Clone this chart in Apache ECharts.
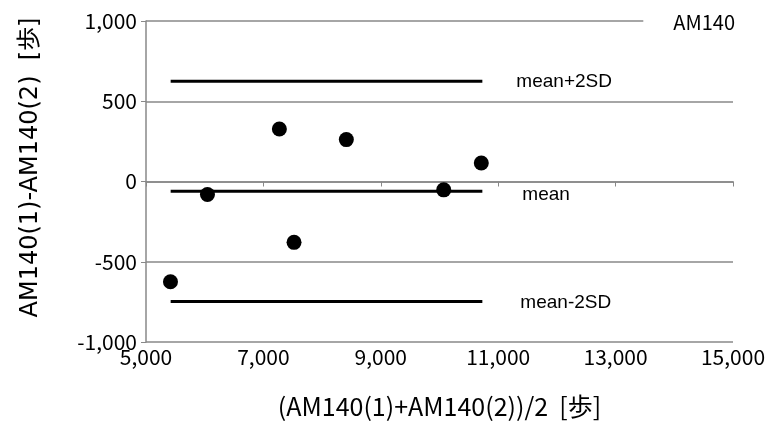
<!DOCTYPE html>
<html><head><meta charset="utf-8">
<script src="https://cdn.jsdelivr.net/npm/echarts@6/dist/echarts.min.js"></script>
<style>html,body{margin:0;padding:0;background:#fff}#c{width:771px;height:428px}</style>
</head><body><div id="c"></div>
<script>
const avgSteps = [5417, 6047, 7272, 7522, 8413, 10072, 10712];
const diffSteps = [-625, -81, 327, -379, 261, -52, 115];
const refRange = [5420, 10730];
const refNames = ['mean+2SD', 'mean', 'mean-2SD'];
const refValues = [625, -60, -748];
const xTicks = [5000, 15000, 2000];
const yTicks = [-1000, 1000, 500];

const FONT = '"Noto Sans CJK JP", "Noto Sans", sans-serif';
const YFONT = '"DejaVu Sans", "Noto Sans CJK JP", sans-serif';
const ANN = '"Liberation Sans", Arial, sans-serif';
const fmt = v => v.toLocaleString('en-US');

const labelOffsets = [[26, 1], [32, 4], [30, 1]];
const refSeries = refNames.map((n, i) => ({
  type: 'line', name: n, symbol: 'none', silent: true,
  lineStyle: {color: '#000', width: 3},
  endLabel: {show: true, formatter: n, offset: labelOffsets[i], color: '#000', fontFamily: ANN, fontSize: 19},
  data: [[refRange[0], refValues[i]], [refRange[1], refValues[i]]],
  z: 3
}));

const chart = echarts.init(document.getElementById('c'), null, {renderer: 'canvas'});
chart.setOption({
  animation: false,
  backgroundColor: '#fff',
  title: {text: 'AM140', right: 30, top: 8, padding: [4, 6, 6, 30], backgroundColor: '#fff',
    textStyle: {fontFamily: FONT, fontSize: 20, fontWeight: 'normal', color: '#000'}, z: 10},
  grid: {left: 146, right: 38, top: 21, bottom: 86},
  xAxis: {
    type: 'value', min: xTicks[0], max: xTicks[1], interval: xTicks[2],
    name: '(AM140(1)+AM140(2))/2  [歩]', nameLocation: 'middle', nameGap: 52,
    nameTextStyle: {fontFamily: FONT, fontSize: 25, color: '#000'},
    axisLine: {show: true, lineStyle: {color: '#888', width: 1.5}},
    axisTick: {show: true, length: 5, lineStyle: {color: '#888'}},
    axisLabel: {formatter: fmt, fontFamily: FONT, fontSize: 21, color: '#000', margin: 5},
    splitLine: {show: false}
  },
  yAxis: {
    type: 'value', min: yTicks[0], max: yTicks[1], interval: yTicks[2],
    name: 'AM140(1)-AM140(2)  [歩]', nameLocation: 'middle', nameGap: 103, nameRotate: 90,
    nameTextStyle: {fontFamily: YFONT, fontSize: 24, color: '#000', padding: [0, 0, 0, 28]},
    axisLine: {show: true, lineStyle: {color: '#888', width: 1.5}},
    axisTick: {show: true, length: 5, lineStyle: {color: '#888'}},
    axisLabel: {formatter: fmt, fontFamily: FONT, fontSize: 21, color: '#000', margin: 9},
    splitLine: {show: true, lineStyle: {color: '#888', width: 1.5}}
  },
  series: [
    ...refSeries,
    {type: 'scatter', symbol: 'circle', symbolSize: 15, itemStyle: {color: '#000', opacity: 1},
     data: avgSteps.map((x, i) => [x, diffSteps[i]]), z: 4}
  ]
});
</script></body></html>
